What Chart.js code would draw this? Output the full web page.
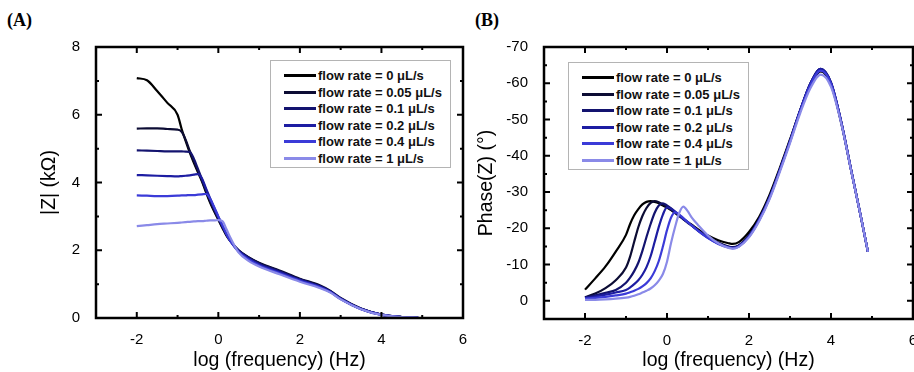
<!DOCTYPE html>
<html lang="en">
<head>
<meta charset="UTF-8">
<title>Impedance vs flow rate</title>
<script src="https://cdn.jsdelivr.net/npm/chart.js"></script>
<style>
    body { margin: 0; background: #fff; width: 914px; height: 372px; position: relative; overflow: hidden; font-family: 'Liberation Sans', Arial, sans-serif; }
    canvas { position: absolute; top: 0; }
    #chartA { left: 0; }
    #chartB { left: 470px; }
    .panel-label { position: absolute; top: 10px; font-family: 'Liberation Serif', 'Times New Roman', serif; font-weight: bold; font-size: 18px; }
    .legend { position: absolute; border: 1px solid #b4b4b4; background: #fff; box-sizing: border-box; padding: 7px 0 0 13px; }
    .legend .row { height: 16.6px; line-height: 16.6px; white-space: nowrap; font-weight: bold; font-size: 13px; color: #111; }
    .legend .swatch { display: inline-block; width: 32px; height: 3px; vertical-align: middle; margin-right: 2px; position: relative; top: -1px; }
</style>
</head>
<body>

<div class="panel-label" style="left:7px">(A)</div>
<div class="panel-label" style="left:475px">(B)</div>
<canvas id="chartA" width="470" height="372"></canvas>
<canvas id="chartB" width="444" height="372"></canvas>
<div class="legend" id="legendA" style="left:270px; top:60px; width:181px; height:108px"></div>
<div class="legend" id="legendB" style="left:568px; top:62px; width:181px; height:108px"></div>

<script>
    // flow rates and colours
    const flowLabels = ['flow rate = 0 μL/s', 'flow rate = 0.05 μL/s', 'flow rate = 0.1 μL/s',
                        'flow rate = 0.2 μL/s', 'flow rate = 0.4 μL/s', 'flow rate = 1 μL/s'];
    const flowColors = ['#000000', '#0c0c34', '#13136f', '#1d1da2', '#3b3bd8', '#8a8ae8'];

    // (A) |Z| in kOhm vs log f
    const freqA = [-2, -1.75, -1.5, -1.25, -1, -0.9, -0.8, -0.7, -0.6, -0.5, -0.4, -0.3, -0.2, -0.1, 0,
                   0.1, 0.2, 0.3, 0.5, 0.75, 1, 1.5, 2, 2.5, 2.75, 3, 3.5, 4, 4.5, 4.9];
    const zA0 = [7.08, 7.02, 6.70, 6.35, 6.00, 5.58, 5.22, 4.88, 4.58, 4.30, 4.03, 3.70, 3.40, 3.14, 2.90,
                 2.66, 2.43, 2.26, 1.98, 1.78, 1.62, 1.38, 1.14, 0.94, 0.78, 0.57, 0.27, 0.10, 0.03, 0.01];
    const zA1 = [5.59, 5.60, 5.60, 5.58, 5.56, 5.50, 5.26, 4.93, 4.63, 4.34, 4.06, 3.74, 3.44, 3.17, 2.92,
                 2.68, 2.45, 2.27, 2.00, 1.79, 1.63, 1.40, 1.16, 0.96, 0.80, 0.59, 0.28, 0.10, 0.03, 0.01];
    const zA2 = [4.95, 4.94, 4.93, 4.92, 4.92, 4.92, 4.91, 4.90, 4.70, 4.40, 4.09, 3.78, 3.49, 3.21, 2.95,
                 2.70, 2.46, 2.27, 1.99, 1.77, 1.60, 1.38, 1.14, 0.94, 0.79, 0.58, 0.27, 0.10, 0.03, 0.01];
    const zA3 = [4.22, 4.21, 4.20, 4.19, 4.18, 4.19, 4.20, 4.21, 4.23, 4.25, 4.12, 3.82, 3.53, 3.25, 2.98,
                 2.72, 2.47, 2.27, 1.97, 1.75, 1.58, 1.35, 1.12, 0.92, 0.77, 0.57, 0.27, 0.10, 0.03, 0.01];
    const zA4 = [3.62, 3.61, 3.60, 3.60, 3.61, 3.62, 3.62, 3.63, 3.63, 3.64, 3.65, 3.66, 3.52, 3.27, 3.00,
                 2.74, 2.48, 2.26, 1.95, 1.72, 1.55, 1.32, 1.10, 0.90, 0.76, 0.56, 0.26, 0.09, 0.03, 0.01];
    const zA5 = [2.71, 2.74, 2.77, 2.79, 2.81, 2.82, 2.83, 2.84, 2.85, 2.86, 2.86, 2.87, 2.88, 2.88, 2.89,
                 2.86, 2.62, 2.36, 1.93, 1.68, 1.52, 1.29, 1.07, 0.88, 0.75, 0.55, 0.26, 0.09, 0.03, 0.01];

    // (B) phase in degrees vs log f
    const freqB = [-2, -1.75, -1.5, -1.25, -1, -0.9, -0.8, -0.7, -0.6, -0.5, -0.4, -0.3, -0.2, -0.1, 0,
                   0.1, 0.2, 0.3, 0.4, 0.5, 0.6, 0.75, 1, 1.25, 1.5, 1.6, 1.75, 2, 2.25, 2.5,
                   2.75, 3, 3.25, 3.5, 3.75, 4, 4.25, 4.5, 4.75, 4.9];
    const pB0 = [-3.1, -6.2, -9.5, -13.6, -18.2, -21.2, -23.6, -25.3, -26.6, -27.3, -27.5, -27.3, -26.9, -26.3, -25.7,
                 -25.0, -24.2, -23.4, -22.6, -21.8, -21.0, -19.8, -18.0, -16.7, -15.9, -15.7, -16.2, -19.0, -23.2, -29.2,
                 -36.6, -44.5, -52.5, -59.5, -63.3, -59.6, -49.0, -35.5, -22.0, -13.5];
    const pB1 = [-1.0, -2.0, -3.5, -5.7, -9.2, -12.2, -16.3, -20.3, -23.4, -25.6, -27.0, -27.5, -27.2, -26.6, -25.9,
                 -25.1, -24.3, -23.4, -22.5, -21.6, -20.8, -19.5, -17.6, -16.1, -15.0, -14.8, -15.3, -18.1, -22.6, -28.6,
                 -36.2, -44.2, -52.6, -60.0, -63.9, -60.1, -49.3, -35.6, -22.0, -13.5];
    const pB2 = [-0.9, -1.5, -2.2, -3.0, -5.0, -6.4, -8.2, -10.5, -13.8, -17.6, -21.2, -24.3, -26.3, -26.9, -26.3,
                 -25.5, -24.5, -23.6, -22.6, -21.7, -20.8, -19.5, -17.5, -15.9, -14.9, -14.7, -15.2, -17.9, -22.5, -28.5,
                 -36.1, -44.1, -52.6, -60.0, -64.0, -60.2, -49.3, -35.6, -22.0, -13.5];
    const pB3 = [-0.8, -1.2, -1.7, -2.3, -3.0, -3.7, -4.6, -5.7, -7.2, -9.3, -12.3, -16.3, -20.4, -23.8, -25.8,
                 -25.4, -24.6, -23.6, -22.6, -21.7, -20.8, -19.4, -17.4, -15.8, -14.8, -14.6, -15.1, -17.8, -22.4, -28.4,
                 -36.0, -44.0, -52.6, -60.0, -64.0, -60.2, -49.3, -35.6, -22.0, -13.5];
    const pB4 = [-0.6, -0.8, -1.1, -1.5, -2.0, -2.4, -2.8, -3.3, -4.0, -4.9, -6.2, -8.2, -11.0, -15.0, -19.5,
                 -23.0, -24.4, -23.8, -22.8, -21.8, -20.8, -19.4, -17.3, -15.7, -14.7, -14.5, -15.0, -17.7, -22.3, -28.3,
                 -35.9, -43.9, -52.4, -59.6, -63.5, -59.9, -49.2, -35.5, -22.0, -13.5];
    const pB5 = [-0.3, -0.3, -0.4, -0.6, -0.9, -1.1, -1.4, -1.8, -2.3, -2.8, -3.4, -4.3, -5.6, -7.4, -10.8,
                 -16.0, -20.5, -24.3, -26.0, -24.8, -23.0, -21.0, -18.0, -15.9, -14.6, -14.4, -14.9, -17.5, -22.0, -28.0,
                 -35.5, -43.5, -51.8, -58.7, -62.4, -59.0, -48.9, -35.4, -22.0, -13.5];

    // tick labels and minor ticks
    const xTicks = [-2, 0, 2, 4, 6];
    const xMinor = [-1, 1, 3, 5];
    const yTicksA = [0, 2, 4, 6, 8];
    const yMinorA = [1, 3, 5, 7];
    const yTicksB = [0, -10, -20, -30, -40, -50, -60, -70];
    const yMinorB = [5, -5, -15, -25, -35, -45, -55, -65];

    const tickFont = { family: "'Liberation Sans', Arial, sans-serif", size: 15 };
    const titleFont = { family: "'Liberation Sans', Arial, sans-serif", size: 19.5 };

    // box around the plot + inward ticks on all four sides
    const framePlugin = {
        id: 'frame',
        afterDraw(chart, args, opts) {
            const { ctx, chartArea: a, scales: { x, y } } = chart;
            ctx.save();
            ctx.strokeStyle = '#000';
            ctx.lineWidth = 2;
            ctx.beginPath();
            const mark = (scale, values, len) => {
                values.forEach(v => {
                    const p = scale.getPixelForValue(v);
                    if (scale.isHorizontal()) {
                        ctx.moveTo(p, a.bottom); ctx.lineTo(p, a.bottom - len);
                        ctx.moveTo(p, a.top); ctx.lineTo(p, a.top + len);
                    } else {
                        ctx.moveTo(a.left, p); ctx.lineTo(a.left + len, p);
                        ctx.moveTo(a.right, p); ctx.lineTo(a.right - len, p);
                    }
                });
            };
            mark(x, x.ticks.map(t => t.value), 6);
            mark(x, opts.xMinor, 3);
            mark(y, y.ticks.map(t => t.value), 6);
            mark(y, opts.yMinor, 3);
            ctx.stroke();
            ctx.lineWidth = 2.5;
            ctx.strokeRect(a.left, a.top, a.width, a.height);
            ctx.restore();
        }
    };

    function makeSets(freqs, series) {
        return series.map((vals, i) => ({
            label: flowLabels[i],
            data: freqs.map((f, k) => ({ x: f, y: vals[k] })),
            borderColor: flowColors[i],
            borderWidth: 2.2,
            pointRadius: 0,
            cubicInterpolationMode: 'monotone',
            order: series.length - i
        }));
    }

    function makeChart(id, sets, cfg) {
        return new Chart(document.getElementById(id), {
            type: 'line',
            data: { datasets: sets },
            options: {
                responsive: false,
                animation: false,
                events: [],
                layout: { padding: cfg.padding },
                plugins: { legend: { display: false }, tooltip: { enabled: false }, frame: { xMinor: xMinor, yMinor: cfg.yMinor } },
                scales: {
                    x: {
                        type: 'linear', min: -3, max: 6,
                        grid: { display: false }, border: { display: false },
                        afterBuildTicks: s => { s.ticks = xTicks.map(v => ({ value: v })); },
                        afterFit: s => { s.height = cfg.xHeight; s.paddingLeft = 0; s.paddingRight = 0; },
                        ticks: { color: '#000', font: tickFont, padding: 5, maxRotation: 0 },
                        title: { display: true, text: 'log (frequency) (Hz)', color: '#000', font: titleFont, padding: { top: 0, bottom: 0 } }
                    },
                    y: {
                        type: 'linear', min: cfg.yMin, max: cfg.yMax, reverse: cfg.reverse,
                        grid: { display: false }, border: { display: false },
                        afterBuildTicks: s => { s.ticks = cfg.yTicks.map(v => ({ value: v })); },
                        afterFit: s => { s.width = cfg.yWidth; s.paddingTop = 0; s.paddingBottom = 0; },
                        ticks: { color: '#000', font: tickFont, padding: 8 },
                        title: { display: true, text: cfg.yTitle, color: '#000', font: titleFont, padding: { top: cfg.yTitlePad, bottom: 0 } }
                    }
                }
            },
            plugins: [framePlugin]
        });
    }

    makeChart('chartA', makeSets(freqA, [zA0, zA1, zA2, zA3, zA4, zA5]), {
        padding: { top: 47, right: 7, left: 0, bottom: 0 },
        xHeight: 54, yWidth: 96, yTitlePad: 38,
        yMin: 0, yMax: 8, reverse: false, yTicks: yTicksA, yMinor: yMinorA, yTitle: '|Z| (kΩ)'
    });

    makeChart('chartB', makeSets(freqB, [pB0, pB1, pB2, pB3, pB4, pB5]), {
        padding: { top: 47, right: 1, left: 0, bottom: 0 },
        xHeight: 53, yWidth: 74, yTitlePad: 5,
        yMin: -70, yMax: 5, reverse: true, yTicks: yTicksB, yMinor: yMinorB, yTitle: 'Phase(Z) (°)'
    });

    // legends (html, built from the same arrays)
    ['legendA', 'legendB'].forEach(id => {
        const box = document.getElementById(id);
        flowLabels.forEach((lab, i) => {
            const row = document.createElement('div');
            row.className = 'row';
            row.innerHTML = '<span class="swatch" style="background:' + flowColors[i] + '"></span>' + lab;
            box.appendChild(row);
        });
    });
</script>
</body>
</html>
